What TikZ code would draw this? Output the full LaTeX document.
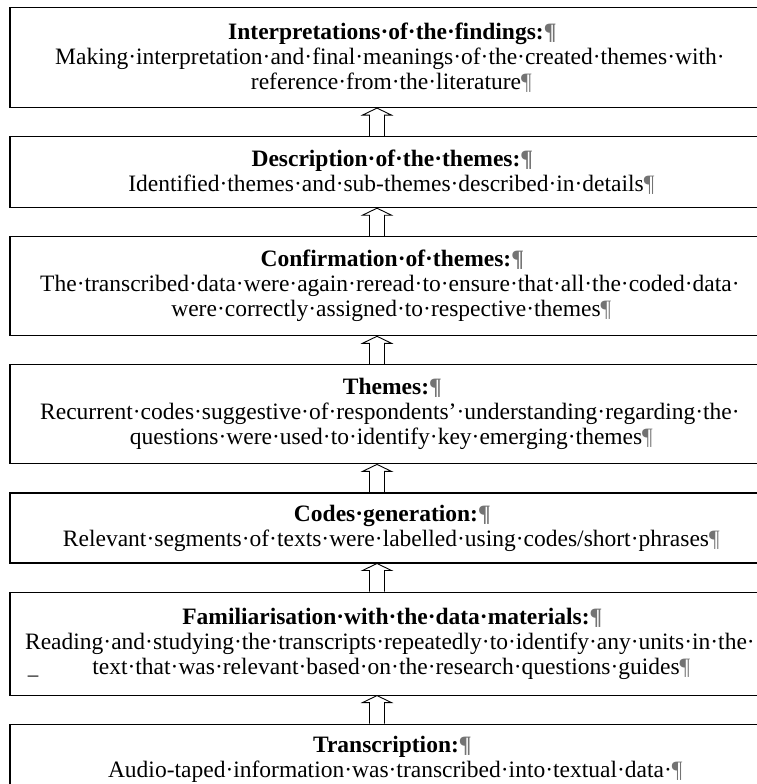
\documentclass[tikz,border=0pt]{standalone}
\usepackage{fontspec}
\setmainfont{Liberation Serif}
\usetikzlibrary{positioning}
\tikzstyle{stage} = [rectangle, minimum width=752pt, inner sep=0pt, align=center, draw=black, line width=1.1pt, font=\fontsize{23.5}{25}\selectfont]
\tikzstyle{hollow} = [line width=0.9pt, line join=miter]
\newcommand{\pmark}{\rlap{\color{black!55}¶}}
% outlined up arrow from the lower box (#1) to the upper box (#2)
\newcommand{\hollowup}[2]{%
  \draw[hollow] ([xshift=-16.5pt]#1.north) -- ([xshift=-16.5pt,yshift=-7pt]#2.south)
    -- ([xshift=-23.5pt,yshift=-7pt]#2.south) -- ([xshift=-9pt]#2.south)
    -- ([xshift=5.5pt,yshift=-7pt]#2.south) -- ([xshift=-1.5pt,yshift=-7pt]#2.south)
    -- ([xshift=-1.5pt]#1.north);}

\begin{document}
\begin{tikzpicture}[x=1pt, y=-1pt, node distance=28pt]
\useasboundingbox (0,0) rectangle (757,784);
\clip (0,0) rectangle (757,784);

\node (interp) [stage, minimum height=100pt, anchor=north] at (386,7) {\textbf{Interpretations·of·the·findings:\pmark}\\
  Making·interpretation·and·final·meanings·of·the·created·themes·with\rlap{·}\\
  reference·from·the·literature\pmark};
\node (descr) [stage, minimum height=71pt, below=of interp] {\textbf{Description·of·the·themes:\pmark}\\
  Identified·themes·and·sub-themes·described·in·details\pmark};
\node (confirm) [stage, minimum height=99pt, below=of descr] {\textbf{Confirmation·of·themes:\pmark}\\
  The·transcribed·data·were·again·reread·to·ensure·that·all·the·coded·data\rlap{·}\\
  were·correctly·assigned·to·respective·themes\pmark};
\node (themes) [stage, minimum height=99pt, below=of confirm] {\textbf{Themes:\pmark}\\
  Recurrent·codes·suggestive·of·respondents’·understanding·regarding·the\rlap{·}\\
  questions·were·used·to·identify·key·emerging·themes\pmark};
\node (codes) [stage, minimum height=70pt, below=of themes] {\textbf{Codes·generation:\pmark}\\
  Relevant·segments·of·texts·were·labelled·using·codes/short·phrases\pmark};
\node (famil) [stage, minimum height=103pt, below=of codes] {\textbf{Familiarisation·with·the·data·materials:\pmark}\\
  Reading·and·studying·the·transcripts·repeatedly·to·identify·any·units·in·the\rlap{·}\\
  text·that·was·relevant·based·on·the·research·questions·guides\pmark};
\node (transcr) [stage, minimum height=70pt, below=of famil] {\textbf{Transcription:\pmark}\\
  Audio-taped·information·was·transcribed·into·textual·data\rlap{·\pmark}};

\node (dash) [font=\fontsize{21}{21}\selectfont, inner sep=0pt] at (33,679) {–};

\hollowup{descr}{interp}
\hollowup{confirm}{descr}
\hollowup{themes}{confirm}
\hollowup{codes}{themes}
\hollowup{famil}{codes}
\hollowup{transcr}{famil}

\end{tikzpicture}
\end{document}
